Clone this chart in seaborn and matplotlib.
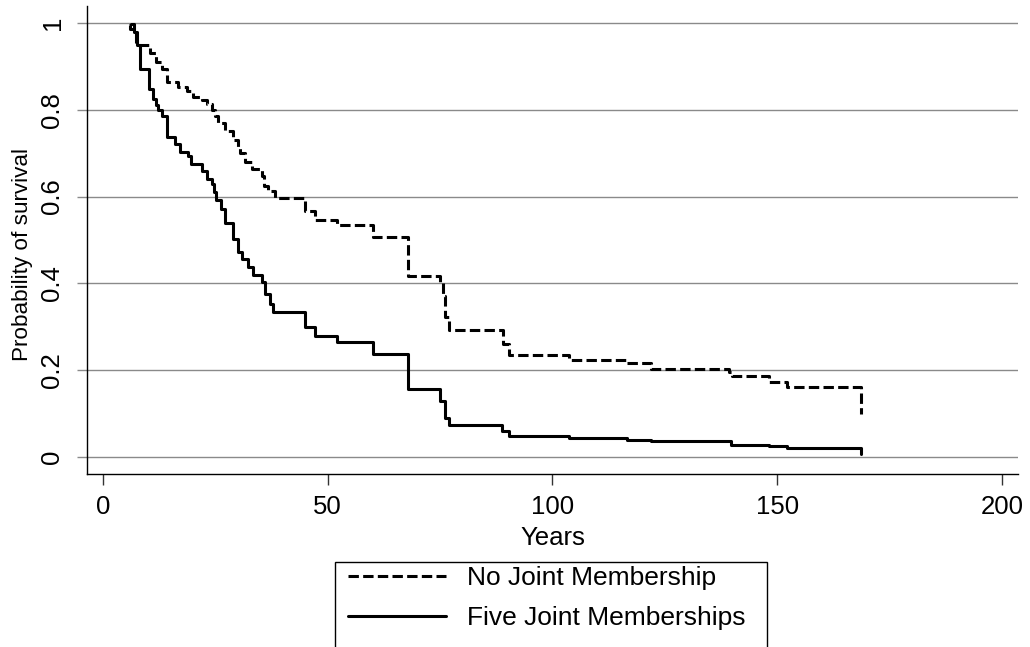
import matplotlib
matplotlib.use("Agg")
import matplotlib.pyplot as plt
from matplotlib.patches import Rectangle
import pandas as pd
import seaborn as sns

# ── Data ────────────────────────────────────────────────────
no_joint_years = [5.8, 6.0, 7.3, 10.4, 11.8, 13.1, 14.2, 16.7, 18.7, 20.0,
                  22.0, 23.1, 24.2, 24.9, 25.6, 27.1, 28.9, 30.0, 30.4, 31.6,
                  33.1, 35.3, 35.9, 36.7, 38.2, 44.9, 47.1, 52.0, 60.0, 67.8,
                  74.9, 75.6, 76.2, 76.9, 88.9, 90.4, 103.8, 116.7, 122.0, 139.3,
                  140.0, 148.2, 152.2, 168.7]
no_joint_surv = [0.995, 0.985, 0.95, 0.93, 0.91, 0.895, 0.865, 0.853, 0.843, 0.83,
                 0.822, 0.813, 0.80, 0.785, 0.77, 0.75, 0.73, 0.715, 0.70, 0.68,
                 0.664, 0.648, 0.625, 0.613, 0.597, 0.567, 0.547, 0.534, 0.507, 0.417,
                 0.403, 0.37, 0.323, 0.293, 0.26, 0.235, 0.224, 0.216, 0.203, 0.196,
                 0.187, 0.173, 0.161, 0.099]

five_joint_years = [6.2, 6.9, 7.6, 8.2, 10.2, 11.1, 11.8, 12.2, 13.1, 14.2,
                    16.0, 17.1, 18.9, 19.6, 22.0, 23.1, 24.2, 24.7, 25.1, 26.2,
                    27.1, 28.9, 30.0, 30.9, 32.2, 33.3, 35.3, 36.0, 37.1, 37.8,
                    44.9, 47.1, 52.0, 60.0, 67.8, 74.9, 76.0, 77.1, 88.7, 90.4,
                    103.8, 116.7, 122.0, 139.8, 148.2, 152.2, 168.7]
five_joint_surv = [0.998, 0.98, 0.95, 0.894, 0.848, 0.825, 0.81, 0.80, 0.786, 0.737,
                   0.72, 0.703, 0.693, 0.675, 0.66, 0.64, 0.63, 0.61, 0.593, 0.571,
                   0.54, 0.502, 0.472, 0.456, 0.437, 0.42, 0.403, 0.376, 0.352, 0.334,
                   0.30, 0.279, 0.265, 0.237, 0.157, 0.129, 0.09, 0.074, 0.06, 0.048,
                   0.044, 0.040, 0.037, 0.028, 0.026, 0.021, 0.007]

x_ticks = [0, 50, 100, 150, 200]
y_ticks = [0, 0.2, 0.4, 0.6, 0.8, 1]
y_tick_labels = ["0", "0.2", "0.4", "0.6", "0.8", "1"]
series_labels = ["No Joint Membership", "Five Joint Memberships"]

df_none = pd.DataFrame({"Years": no_joint_years, "surv": no_joint_surv})
df_five = pd.DataFrame({"Years": five_joint_years, "surv": five_joint_surv})

# ── Style ────────────────────────────────────────────────────
sns.set_theme(style="white")
plt.rcParams["font.family"] = ["Liberation Sans", "DejaVu Sans"]
plt.rcParams["text.color"] = "black"
plt.rcParams["axes.labelcolor"] = "black"
plt.rcParams["xtick.labelcolor"] = "black"
plt.rcParams["ytick.labelcolor"] = "black"
FS_TICK = 18.5
FS_LEG = 19
GRID = "#8a8a8a"

W, H = 1030, 647
fig = plt.figure(figsize=(W / 100, H / 100), dpi=100)
ax = fig.add_axes([87 / W, 1 - 474 / H, (1018 - 87) / W, (474 - 6) / H])

# gridlines first so curves sit on top
for yv in y_ticks:
    ax.axhline(yv, color=GRID, lw=1.0, zorder=0)

sns.lineplot(data=df_none, x="Years", y="surv", ax=ax, color="black",
             estimator=None, sort=False, drawstyle="steps-post", lw=2.2,
             linestyle=(0, (3.4, 1.4)), label=series_labels[0], legend=False)
sns.lineplot(data=df_five, x="Years", y="surv", ax=ax, color="black",
             estimator=None, sort=False, drawstyle="steps-post", lw=2.2,
             label=series_labels[1], legend=False)

ax.set_xlim(-3.55, 203.6)
ax.set_ylim(-0.039, 1.039)
ax.set_xticks(x_ticks)
ax.set_xticklabels([str(v) for v in x_ticks])
ax.set_yticks(y_ticks)
ax.set_yticklabels(y_tick_labels)

for s in ["top", "right"]:
    ax.spines[s].set_visible(False)
for s in ["left", "bottom"]:
    ax.spines[s].set_color("black")
    ax.spines[s].set_linewidth(1.0)

ax.tick_params(axis="x", direction="out", length=8, width=1.0, color="#333333",
               pad=7, labelsize=FS_TICK, bottom=True, labelcolor="black")
ax.tick_params(axis="y", direction="out", length=7.2, width=1.0, color=GRID,
               pad=9, labelsize=FS_TICK, left=True, labelrotation=90,
               labelcolor="black")
plt.setp(ax.get_yticklabels(), va="center")

ax.set_xlabel("Years", fontsize=FS_TICK, labelpad=5, color="black")
ax.set_ylabel("Probability of survival", fontsize=16.2, color="black")
ax.yaxis.set_label_coords(-0.058, 0.47)

# ── Legend box below the plot ───────────────────────────────
fig.patches.append(Rectangle((335 / W, 1 - 660 / H), (767 - 335) / W, (660 - 562) / H,
                             transform=fig.transFigure, fill=False,
                             edgecolor="black", lw=1.0))
handles = ax.get_lines()[-2:]
leg = fig.legend(handles, series_labels, loc="upper left",
                 bbox_to_anchor=(348 / W, 1 - 566 / H), frameon=False,
                 borderpad=0, borderaxespad=0, fontsize=FS_LEG, handlelength=3.7,
                 handletextpad=0.8, labelspacing=0.6)
for t in leg.get_texts():
    t.set_color("black")

fig.savefig("out.png", dpi=100)
